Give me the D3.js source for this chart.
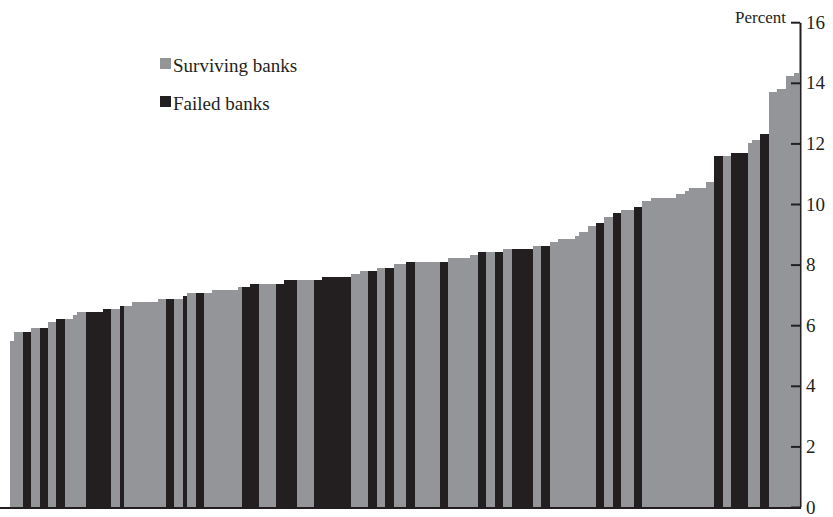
<!DOCTYPE html>
<html><head><meta charset="utf-8">
<script src="https://cdn.jsdelivr.net/npm/d3@7"></script>
<style>
html,body{margin:0;padding:0;background:#fff;}
svg text{font-family:"Liberation Serif","DejaVu Serif",serif;fill:#231f20;}
</style></head>
<body>
<svg id="chart" width="833" height="517"></svg>
<script>
// Capital ratio (percent) of each bank, sorted ascending
const capitalRatio = [
  5.49, 5.79, 5.79, 5.79, 5.79, 5.90, 5.90, 5.90, 5.90, 6.12,
  6.12, 6.21, 6.21, 6.21, 6.21, 6.33, 6.43, 6.43, 6.43, 6.43,
  6.43, 6.43, 6.52, 6.52, 6.52, 6.52, 6.64, 6.64, 6.64, 6.75,
  6.75, 6.75, 6.75, 6.75, 6.75, 6.85, 6.85, 6.85, 6.85, 6.85,
  6.85, 6.96, 7.06, 7.06, 7.06, 7.06, 7.06, 7.06, 7.16, 7.16,
  7.16, 7.16, 7.16, 7.16, 7.27, 7.27, 7.27, 7.37, 7.37, 7.37,
  7.37, 7.37, 7.37, 7.37, 7.37, 7.49, 7.49, 7.49, 7.49, 7.49,
  7.49, 7.49, 7.49, 7.49, 7.58, 7.58, 7.58, 7.58, 7.58, 7.58,
  7.58, 7.69, 7.69, 7.80, 7.80, 7.80, 7.80, 7.90, 7.90, 7.90,
  7.90, 8.01, 8.01, 8.01, 8.10, 8.10, 8.10, 8.10, 8.10, 8.10,
  8.10, 8.10, 8.10, 8.10, 8.22, 8.22, 8.22, 8.22, 8.22, 8.32,
  8.32, 8.43, 8.43, 8.43, 8.43, 8.43, 8.43, 8.53, 8.53, 8.53,
  8.53, 8.53, 8.53, 8.53, 8.63, 8.63, 8.63, 8.63, 8.75, 8.75,
  8.84, 8.84, 8.84, 8.84, 8.95, 9.07, 9.07, 9.26, 9.26, 9.37,
  9.37, 9.58, 9.58, 9.69, 9.69, 9.79, 9.79, 9.79, 9.89, 9.89,
  10.11, 10.11, 10.21, 10.21, 10.21, 10.21, 10.21, 10.21, 10.32, 10.32,
  10.42, 10.52, 10.52, 10.52, 10.52, 10.74, 10.74, 11.58, 11.58, 11.58,
  11.58, 11.67, 11.67, 11.67, 11.67, 12.00, 12.11, 12.11, 12.31, 12.31,
  13.69, 13.69, 13.79, 13.79, 14.22, 14.22, 14.31
];
// 1 = failed bank, 0 = surviving bank
const failedFlag = [
  0,0,0,1,1,0,0,1,1,0,
  0,1,1,0,0,0,0,0,1,1,
  1,1,1,1,0,0,1,0,0,0,
  0,0,0,0,0,0,0,1,1,0,
  0,1,0,0,1,1,0,0,0,0,
  0,0,0,0,0,1,1,1,1,0,
  0,0,0,1,1,1,1,1,0,0,
  0,0,1,1,1,1,1,1,1,1,
  1,0,0,0,0,1,1,0,0,1,
  1,0,0,0,1,1,0,0,0,0,
  0,0,1,1,0,0,0,0,0,0,
  0,1,1,0,0,1,1,0,0,1,
  1,1,1,1,0,0,1,1,0,0,
  0,0,0,0,0,0,0,0,0,1,
  1,0,0,1,1,0,0,0,1,1,
  0,0,0,0,0,0,0,0,0,0,
  0,0,0,0,0,0,0,1,1,0,
  0,1,1,1,1,0,0,0,1,1,
  0,0,0,0,0,0,0
];
const seriesNames = ["Surviving banks", "Failed banks"];
const yTicks = [0, 2, 4, 6, 8, 10, 12, 14, 16];
const yLabel = "Percent";

const colors = {"Surviving banks": "#939598", "Failed banks": "#231f20"};
const svg = d3.select("#chart");

const data = capitalRatio.map((v, i) => ({i, v, s: failedFlag[i] ? seriesNames[1] : seriesNames[0]}));

const x = d3.scaleBand().domain(data.map(d => d.i)).range([10, 798.4]).padding(0);
const y = d3.scaleLinear().domain([0, 16]).range([507, 22.2]);

svg.append("g").selectAll("rect").data(data).join("rect")
  .attr("x", d => x(d.i))
  .attr("width", x.bandwidth() + 0.3)
  .attr("y", d => y(d.v))
  .attr("height", d => y(0) - y(d.v))
  .attr("fill", d => colors[d.s])
  .attr("shape-rendering", "crispEdges");

// x baseline
svg.append("line").attr("x1", 0).attr("x2", 801).attr("y1", 508).attr("y2", 508)
  .attr("stroke", "#231f20").attr("stroke-width", 2);

// right axis
const axis = d3.axisRight(y).tickValues(yTicks).tickSizeInner(-9).tickSizeOuter(0).tickPadding(6);
const ag = svg.append("g").attr("transform", "translate(800,0)").call(axis);
ag.select(".domain").attr("stroke", "#231f20").attr("stroke-width", 2);
ag.selectAll(".tick line").attr("stroke", "#231f20").attr("stroke-width", 2);
ag.selectAll(".tick text").attr("font-size", 19).attr("font-family", "Liberation Serif").attr("fill", "#231f20");

svg.append("text").attr("x", 786).attr("y", 23).attr("text-anchor", "end")
  .attr("font-size", 17).text(yLabel);

// legend
const lg = svg.append("g");
seriesNames.forEach((name, k) => {
  const yy = 58 + k * 38;
  lg.append("rect").attr("x", 160).attr("y", yy).attr("width", 11).attr("height", 11).attr("fill", colors[name]);
  lg.append("text").attr("x", 173).attr("y", yy + 14).attr("font-size", 19).text(name);
});
</script>
</body></html>
